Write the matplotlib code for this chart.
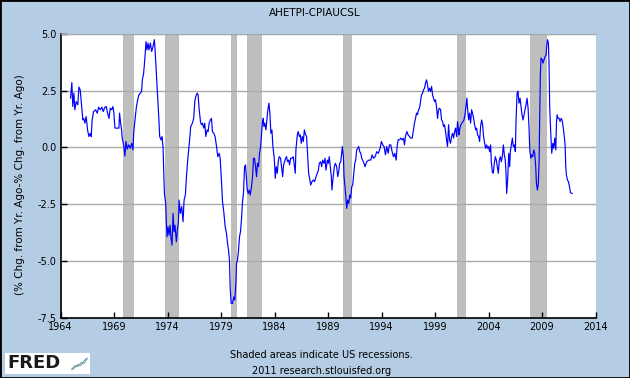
import matplotlib
matplotlib.use("Agg")
import matplotlib.pyplot as plt
from matplotlib.patches import Rectangle

# ---------------- data ----------------
title = "AHETPI-CPIAUCSL"
ylabel = "(% Chg. from Yr. Ago-% Chg. from Yr. Ago)"
xticks = [1964, 1969, 1974, 1979, 1984, 1989, 1994, 1999, 2004, 2009, 2014]
yticks = [-7.5, -5.0, -2.5, 0.0, 2.5, 5.0]

recessions = [(1969.83, 1970.83), (1973.75, 1975.12), (1979.92, 1980.45),
              (1981.42, 1982.79), (1990.38, 1991.21), (2001.06, 2001.89),
              (2007.9, 2009.47)]

dates = [
    1964.94, 1965.06, 1965.15, 1965.25, 1965.34, 1965.47, 1965.62, 1965.72, 1965.84, 1965.94,
    1966.03, 1966.09, 1966.18, 1966.28, 1966.40, 1966.53, 1966.65, 1966.78, 1966.87, 1966.96,
    1967.09, 1967.28, 1967.43, 1967.56, 1967.71, 1967.87, 1967.99, 1968.15, 1968.28, 1968.40,
    1968.53, 1968.65, 1968.78, 1968.90, 1968.99, 1969.09, 1969.27, 1969.46, 1969.52, 1969.62,
    1969.71, 1969.77, 1969.90, 1970.02, 1970.12, 1970.24, 1970.37, 1970.52, 1970.65, 1970.77,
    1970.84, 1970.96, 1971.08, 1971.21, 1971.33, 1971.46, 1971.58, 1971.65, 1971.77, 1971.90,
    1971.99, 1972.08, 1972.18, 1972.27, 1972.40, 1972.52, 1972.65, 1972.77, 1972.83, 1972.96,
    1973.08, 1973.18, 1973.27, 1973.39, 1973.49, 1973.58, 1973.64,
    1973.71, 1973.83, 1973.89, 1973.96, 1974.05, 1974.14, 1974.24, 1974.33, 1974.42, 1974.52,
    1974.61, 1974.70, 1974.83, 1974.92, 1975.02, 1975.08, 1975.20, 1975.33, 1975.45, 1975.55,
    1975.67, 1975.77, 1975.89,
    1976.08, 1976.17, 1976.33, 1976.45, 1976.55, 1976.64, 1976.77, 1976.86, 1976.95, 1977.08,
    1977.17, 1977.27, 1977.39, 1977.48, 1977.58, 1977.70, 1977.80, 1977.89, 1978.01, 1978.11,
    1978.20, 1978.33, 1978.45, 1978.58, 1978.70, 1978.83, 1978.92, 1979.04, 1979.14, 1979.26,
    1979.39, 1979.51, 1979.61, 1979.70, 1979.79, 1979.86, 1979.95, 1980.07, 1980.20, 1980.29,
    1980.39, 1980.45, 1980.54, 1980.64, 1980.73, 1980.82, 1980.92, 1981.01, 1981.10, 1981.20,
    1981.29, 1981.39, 1981.45, 1981.54, 1981.63, 1981.73, 1981.85, 1981.95, 1982.04, 1982.13,
    1982.23, 1982.32, 1982.41, 1982.51, 1982.60, 1982.70, 1982.79, 1982.88, 1982.95, 1983.01,
    1983.10, 1983.20, 1983.29, 1983.38, 1983.48, 1983.57, 1983.66, 1983.76, 1983.85, 1983.98,
    1984.07, 1984.16, 1984.26, 1984.35, 1984.44, 1984.57, 1984.66, 1984.76, 1984.85, 1984.94,
    1985.04, 1985.13, 1985.22, 1985.32, 1985.41, 1985.50, 1985.63, 1985.75, 1985.85, 1985.94,
    1986.00, 1986.13, 1986.22, 1986.32, 1986.41, 1986.50, 1986.60, 1986.69, 1986.79, 1986.91,
    1987.00, 1987.10, 1987.19, 1987.28, 1987.38, 1987.50, 1987.63, 1987.75, 1987.88, 1988.00,
    1988.10, 1988.19, 1988.31, 1988.41, 1988.50, 1988.63, 1988.72, 1988.81, 1988.94,
    1989.03, 1989.12, 1989.22, 1989.31, 1989.37, 1989.47, 1989.59, 1989.69, 1989.81, 1989.91,
    1990.00, 1990.09, 1990.19, 1990.28, 1990.34, 1990.44, 1990.50, 1990.59, 1990.69, 1990.75,
    1990.84, 1990.94, 1991.03, 1991.12, 1991.22, 1991.31, 1991.40, 1991.50, 1991.59, 1991.68,
    1991.78, 1991.87, 1991.97, 1992.06, 1992.15, 1992.31, 1992.46, 1992.62, 1992.81, 1992.99,
    1993.12, 1993.25, 1993.40, 1993.56, 1993.71, 1993.87, 1993.99, 1994.12, 1994.24, 1994.37,
    1994.49, 1994.62, 1994.74, 1994.87, 1994.99, 1995.12, 1995.24, 1995.37, 1995.46, 1995.55,
    1995.68, 1995.80, 1995.93, 1996.05, 1996.15, 1996.24, 1996.37, 1996.49, 1996.62, 1996.74,
    1996.87, 1996.99, 1997.08, 1997.18, 1997.27, 1997.36, 1997.46, 1997.55, 1997.65, 1997.74,
    1997.83, 1997.93, 1998.02, 1998.11, 1998.21, 1998.30, 1998.39, 1998.49, 1998.58, 1998.68,
    1998.77, 1998.86, 1998.96, 1999.05, 1999.14, 1999.24, 1999.33, 1999.42, 1999.52, 1999.61,
    1999.71, 1999.80, 1999.89, 1999.99, 2000.08, 2000.17, 2000.27, 2000.36, 2000.45, 2000.55,
    2000.64, 2000.74, 2000.83, 2000.92, 2001.02, 2001.11, 2001.20,
    2001.23, 2001.33, 2001.42, 2001.52, 2001.61, 2001.70, 2001.80, 2001.89, 2001.98, 2002.05,
    2002.14, 2002.23, 2002.33, 2002.42, 2002.51, 2002.61, 2002.70, 2002.80, 2002.89, 2002.98,
    2003.08, 2003.17, 2003.26, 2003.36, 2003.45, 2003.54, 2003.64, 2003.73, 2003.83, 2003.92,
    2004.01, 2004.11, 2004.20, 2004.26, 2004.36, 2004.45, 2004.54, 2004.64, 2004.73, 2004.82,
    2004.92, 2005.01, 2005.11, 2005.20, 2005.29, 2005.39, 2005.48, 2005.57, 2005.64, 2005.70,
    2005.79, 2005.89, 2005.98, 2006.04, 2006.13, 2006.23, 2006.32, 2006.42, 2006.51, 2006.57,
    2006.67, 2006.76, 2006.85, 2006.95, 2007.04, 2007.13, 2007.23, 2007.32, 2007.41, 2007.51,
    2007.60, 2007.70, 2007.79, 2007.85, 2007.95, 2008.04, 2008.13, 2008.23, 2008.32, 2008.41,
    2008.48, 2008.57, 2008.66, 2008.73, 2008.79, 2008.85, 2008.91, 2009.01, 2009.10, 2009.19,
    2009.29, 2009.38, 2009.44, 2009.51, 2009.60, 2009.66, 2009.72, 2009.82, 2009.91, 2010.01,
    2010.10, 2010.19, 2010.29, 2010.35, 2010.41, 2010.50, 2010.60, 2010.69, 2010.79, 2010.88,
    2010.97, 2011.07, 2011.16, 2011.22, 2011.28, 2011.38, 2011.47, 2011.57, 2011.66, 2011.82,
]

spread = [
    2.17, 2.86, 1.80, 2.39, 1.66, 2.02, 1.88, 2.66, 2.54, 2.02,
    1.58, 1.21, 1.28, 1.07, 1.36, 0.77, 0.48, 0.62, 0.48, 1.21,
    1.58, 1.66, 1.51, 1.77, 1.66, 1.77, 1.58, 1.77, 1.80, 1.51,
    1.28, 1.73, 1.66, 1.80, 1.51, 0.85, 0.85, 0.85, 1.51, 1.07,
    0.77, 0.40, 0.11, -0.38, 0.26, -0.08, 0.11, -0.04, 0.18, -0.11,
    0.62, 1.21, 1.73, 2.10, 2.32, 2.39, 2.47, 2.98, 3.27, 4.01,
    4.67, 4.30, 4.60, 4.30, 4.60, 4.23, 4.45, 4.75, 4.38, 3.27,
    2.24, 1.36, 0.48, 0.33, 0.48, 0.04, -0.99,
    -2.03, -2.47, -3.28, -3.94, -3.50, -3.87, -3.43, -4.01, -4.31, -2.91,
    -3.72, -3.43, -4.16, -3.65, -3.28, -2.32, -2.91, -2.61, -3.28, -2.32,
    -2.10, -1.29, -0.55,
    0.40, 0.92, 1.07, 1.28, 2.02, 2.24, 2.39, 2.32, 1.73, 1.14,
    1.00, 1.07, 0.85, 1.07, 0.48, 0.77, 0.70, 1.07, 1.21, 1.28,
    0.70, 0.62, 0.48, 0.04, -0.41, -0.26, -0.48, -1.44, -2.39, -2.84,
    -3.50, -3.79, -4.23, -4.53, -4.97, -6.22, -6.88, -6.88, -6.59, -6.73,
    -6.00, -5.12, -4.97, -4.53, -3.94, -3.72, -3.13, -2.39, -2.03, -0.85,
    -0.77, -1.44, -1.88, -2.03, -1.88, -2.10, -1.73, -1.29, -0.48, -0.48,
    -0.85, -1.29, -0.70, -0.85, -0.26, 0.04, 0.62, 1.14, 1.28, 0.92,
    1.07, 0.77, 1.21, 1.66, 1.95, 1.51, 0.62, 0.77, 0.04, -0.48,
    -1.36, -0.85, -1.14, -0.63, -0.41, -0.48, -0.85, -1.29, -0.77, -0.63,
    -0.48, -0.41, -0.63, -0.56, -0.77, -0.48, -0.48, -0.41, -0.77, -1.14,
    -0.11, 0.55, 0.70, 0.48, 0.55, 0.18, 0.48, 0.26, 0.77, 0.55,
    0.48, -0.41, -1.14, -1.36, -1.66, -1.51, -1.44, -1.51, -1.29, -1.14,
    -1.00, -0.70, -0.63, -0.85, -0.56, -0.70, -0.48, -1.00, -0.56,
    -0.70, -0.41, -0.85, -1.29, -1.88, -1.36, -0.85, -0.70, -0.85, -1.29,
    -1.07, -0.70, -0.63, -0.26, 0.04, -0.41, -1.29, -1.73, -2.32, -2.69,
    -2.32, -2.47, -2.10, -2.24, -1.73, -1.66, -1.21, -0.70, -0.56, -0.11,
    -0.04, 0.04, -0.19, -0.26, -0.48, -0.63, -0.85, -0.63, -0.56, -0.56,
    -0.33, -0.48, -0.41, -0.19, -0.26, -0.04, 0.26, 0.11, 0.04, -0.33,
    0.04, -0.26, 0.11, 0.11, -0.19, -0.41, -0.26, -0.56, 0.04, 0.33,
    0.33, 0.41, 0.33, 0.41, 0.11, 0.48, 0.70, 0.55, 0.48, 0.41,
    0.41, 0.77, 1.07, 1.28, 1.51, 1.44, 1.66, 1.73, 2.02, 2.32,
    2.39, 2.54, 2.61, 2.83, 2.98, 2.76, 2.47, 2.61, 2.47, 2.69,
    2.32, 2.17, 2.02, 2.10, 1.80, 1.28, 1.66, 1.73, 1.66, 1.21,
    1.14, 0.92, 1.00, 0.70, 0.33, 0.04, 1.00, 0.33, 0.18, 0.48,
    0.62, 0.41, 0.70, 0.85, 0.48, 1.14, 0.77,
    0.55, 0.85, 1.00, 1.07, 1.14, 1.21, 1.44, 1.80, 2.17, 1.66,
    1.21, 1.51, 1.07, 1.66, 1.51, 1.28, 1.00, 0.77, 0.85, 0.55,
    0.48, 0.26, 0.92, 1.21, 1.00, 0.48, 0.18, -0.04, 0.11, -0.04,
    0.04, -0.19, 0.11, -0.63, -1.07, -1.14, -0.70, -0.41, -0.56, -0.85,
    -1.14, -0.56, -0.41, -0.63, -0.41, 0.11, -0.33, -0.56, -1.14, -2.03,
    -1.44, -0.26, -0.85, -0.19, 0.11, 0.41, 0.04, 0.11, -0.19, 1.14,
    2.39, 2.47, 1.95, 2.17, 1.80, 1.44, 1.21, 1.44, 1.66, 1.88,
    2.17, 1.73, 0.85, -0.04, -0.48, -0.33, -0.41, -0.11, -0.26, -0.85,
    -1.58, -1.88, -1.58, -0.63, 1.51, 3.27, 3.94, 3.87, 3.72, 3.87,
    4.01, 4.08, 4.45, 4.75, 4.60, 3.57, 1.80, 0.62, -0.26, 0.18,
    -0.04, 0.41, -0.11, 1.07, 1.44, 1.28, 1.28, 1.14, 1.28, 1.21,
    0.92, 0.55, 0.11, -0.85, -1.21, -1.44, -1.51, -1.73, -2.00, -2.03,
]

bottom_note_1 = "Shaded areas indicate US recessions."
bottom_note_2 = "2011 research.stlouisfed.org"

# ---------------- styling ----------------
BG = "#B4CDE4"
plt.rcParams["font.family"] = ["DejaVu Sans"]
plt.rcParams["axes.unicode_minus"] = False

W, H = 630, 378
fig = plt.figure(figsize=(W / 100, H / 100), dpi=100, facecolor=BG)

left, right, top, bottom = 60.5, 595.5, 34, 317.5
ax = fig.add_axes([left / W, 1 - bottom / H, (right - left) / W, (bottom - top) / H])
ax.set_facecolor("white")

for a, b in recessions:
    ax.axvspan(a, b, color="#BEBEBE", lw=0, zorder=1)

ax.plot(dates, spread, color="#0000FF", lw=0.85, zorder=3)

ax.set_xlim(1964, 2014)
ax.set_ylim(-7.5, 5.0)
ax.set_xticks(xticks)
ax.set_xticklabels([str(t) for t in xticks])
ax.set_yticks(yticks)
ax.set_yticklabels([f"{t:.1f}" for t in yticks])
ax.yaxis.grid(True, color="#AAAAAA", lw=1.0)
for gl in ax.get_ygridlines():
    gl.set_zorder(2)
ax.tick_params(axis="both", direction="in", length=4, width=1, color="black",
               labelsize=7, labelcolor="black", pad=3)
ax.spines["left"].set_color("black")
ax.spines["bottom"].set_color("black")
ax.spines["left"].set_linewidth(1.2)
ax.spines["bottom"].set_linewidth(1.2)
ax.spines["top"].set_color("#A8A8A8")
ax.spines["right"].set_visible(False)

fig.text(315 / W, 1 - 12.5 / H, title, ha="center", va="center", fontsize=7.5)
fig.text(20 / W, 1 - 185 / H, ylabel, ha="center", va="center", rotation=90, fontsize=7.5)
fig.text(321.5 / W, 1 - 355 / H, bottom_note_1, ha="center", va="center", fontsize=7)
fig.text(321.5 / W, 1 - 370.5 / H, bottom_note_2, ha="center", va="center", fontsize=7)

# FRED logo
fig.patches.append(Rectangle((5 / W, 1 - 374 / H), 85 / W, 21 / H, transform=fig.transFigure,
                             facecolor="white", edgecolor="none", zorder=0.5))
fig.text(7 / W, 1 - 363.5 / H, "FRED", ha="left", va="center", fontsize=13,
         fontweight="bold", color="#1a1a1a")
icon = fig.add_axes([71 / W, 1 - 372 / H, 17 / W, 16 / H], zorder=5)
icon.set_facecolor("white")
for s in icon.spines.values():
    s.set_visible(False)
icon.set_xticks([])
icon.set_yticks([])
logo_x = [0, 1, 2, 3, 4, 5]
logo_green = [0.5, 1.5, 1.2, 2.5, 2.2, 3.6]
logo_blue = [0.2, 1.0, 1.8, 1.6, 3.0, 3.8]
icon.plot(logo_x, logo_green, color="#7FB77E", lw=0.8)
icon.plot(logo_x, logo_blue, color="#6F8FC8", lw=0.8)
icon.set_xlim(-0.3, 5.3)
icon.set_ylim(-0.5, 4.5)

# outer frame
fig.patches.append(Rectangle((0, 0), 1, 1, transform=fig.transFigure, fill=False,
                             edgecolor="black", lw=2, zorder=10))

fig.savefig("out.png", dpi=100, facecolor=BG)
